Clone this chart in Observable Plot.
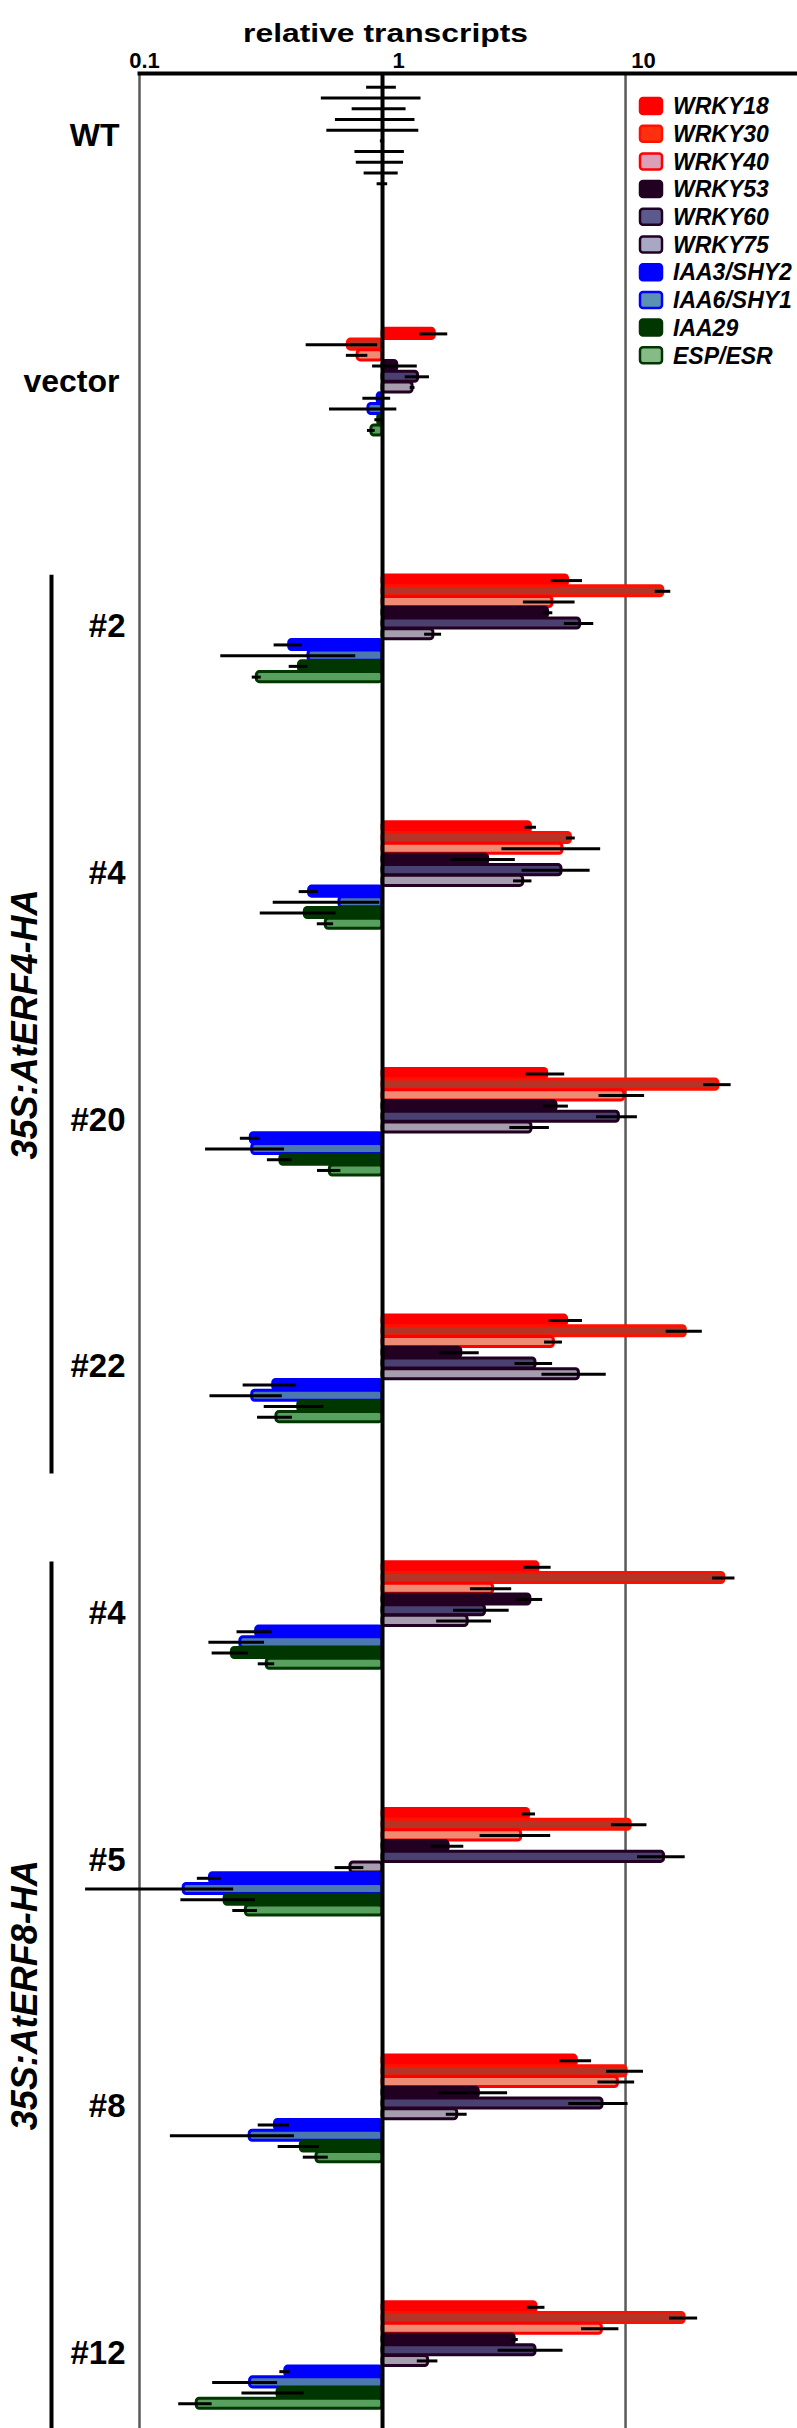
<!DOCTYPE html>
<html><head><meta charset="utf-8">
<script src="https://cdn.jsdelivr.net/npm/d3@7"></script>
<script src="https://cdn.jsdelivr.net/npm/@observablehq/plot@0.6"></script>
<style>body{margin:0;background:#fff} svg{display:block}</style>
</head><body><div id="chart"></div>
<script>
// ---- data ----
const genes = ["WRKY18","WRKY30","WRKY40","WRKY53","WRKY60","WRKY75","IAA3/SHY2","IAA6/SHY1","IAA29","ESP/ESR"];
const lines = ["WT","vector","#2","#4","#20","#22","#4","#5","#8","#12"];
const constructNames = ["35S:AtERF4-HA","35S:AtERF8-HA"];
const constructFirstLine = [2, 6];
const constructLastLine = [5, 9];
const tickValues = [0.1, 1, 10];
const tickLabels = ["0.1", "1", "10"];
const axisTitle = "relative transcripts";

const valWT     = [1, 1, 1, 1, 1, 1, 1, 1, 1, 1];
const errWT     = [0.14, 0.44, 0.25, 0.36, 0.41, 0.02, 0.23, 0.22, 0.16, 0.05];
const valVector = [1.64, 0.72, 0.79, 1.15, 1.40, 1.33, 0.955, 0.875, 0.96, 0.90];
const errVector = [0.215, 0.235, 0.08, 0.24, 0.16, 0.03, 0.125, 0.27, 0.03, 0.033];
const valE4_2   = [5.8, 14.3, 5.0, 4.8, 6.5, 1.62, 0.413, 0.496, 0.453, 0.304];
const errE4_2   = [0.85, 1.05, 1.2, 0.22, 0.9, 0.13, 0.055, 0.28, 0.04, 0.013];
const valE4_4   = [4.08, 5.96, 5.5, 2.72, 5.45, 3.79, 0.499, 0.665, 0.479, 0.584];
const errE4_4   = [0.22, 0.25, 2.4, 0.8, 1.7, 0.33, 0.045, 0.31, 0.165, 0.045];
const valE4_20  = [4.76, 24.1, 9.88, 5.2, 9.39, 4.1, 0.287, 0.291, 0.38, 0.607];
const errE4_20  = [0.86, 3.1, 2.1, 0.62, 1.8, 0.76, 0.027, 0.104, 0.044, 0.067];
const valE4_22  = [5.75, 17.7, 5.07, 2.11, 4.26, 6.43, 0.355, 0.291, 0.45, 0.366];
const errE4_22  = [0.9, 3.0, 0.43, 0.39, 0.75, 1.9, 0.088, 0.096, 0.124, 0.06];
const valE8_4   = [4.38, 25.5, 2.85, 4.06, 2.64, 2.24, 0.302, 0.26, 0.24, 0.334];
const errE8_4   = [0.56, 2.7, 0.55, 0.5, 0.68, 0.57, 0.05, 0.067, 0.041, 0.026];
const valE8_5   = [4.01, 10.5, 3.72, 1.87, 14.4, 0.738, 0.195, 0.152, 0.224, 0.274];
const errE8_5   = [0.25, 1.75, 1.2, 0.29, 3.2, 0.1, 0.022, 0.092, 0.076, 0.032];
const valE8_8   = [6.3, 10.1, 9.3, 2.49, 8.04, 2.03, 0.361, 0.284, 0.461, 0.535];
const errE8_8   = [0.95, 1.75, 1.6, 0.78, 2.2, 0.2, 0.053, 0.15, 0.089, 0.063];
const valE8_12  = [4.3, 17.5, 7.99, 3.5, 4.26, 1.54, 0.398, 0.285, 0.37, 0.172];
const errE8_12  = [0.36, 2.3, 1.4, 0.12, 1.27, 0.15, 0.02, 0.085, 0.106, 0.027];

// ---- styles ----
const barFill   = ["#ff0000","#b63426","#ef8b73","#220022","#4b4170","#a69daf","#0000ff","#4b78ae","#003600","#58a05e"];
const barStroke = ["#ff0000","#ff1000","#ff0000","#220022","#220022","#220022","#0000ff","#0000ff","#003600","#003600"];
const keyFill   = ["#ff0000","#ff3010","#d9a0b8","#220022","#5b5a8c","#a9a8c4","#0000ff","#5b92b4","#003600","#86bb88"];

const values = [valWT, valVector, valE4_2, valE4_4, valE4_20, valE4_22, valE8_4, valE8_5, valE8_8, valE8_12];
const errors = [errWT, errVector, errE4_2, errE4_4, errE4_20, errE4_22, errE8_4, errE8_5, errE8_8, errE8_12];

// layout: each line occupies 10 rows out of a 23-row slot
const SLOT = 23;
const rowOf = (g, k) => SLOT * g + k;
const yDomain = [-1.28, 218.3];

const rows = lines.flatMap((line, g) => genes.map((gene, k) => ({
  g, k, gene, line, v: values[g][k], e: errors[g][k], r: rowOf(g, k)
})));
const lineLabels = lines.map((line, g) => ({line, g, yc: rowOf(g, 4.5)}));
const constructs = constructNames.map((name, i) => ({
  name,
  y1: rowOf(constructFirstLine[i], 0) - 0.5,
  y2: i === constructNames.length - 1 ? yDomain[1] : rowOf(constructLastLine[i], 9) + 5.3
}));

const sans = "'Liberation Sans','Helvetica','Arial',sans-serif";

const chart = Plot.plot({
  width: 797, height: 2428,
  marginTop: 73, marginLeft: 139, marginRight: 0, marginBottom: 0,
  x: {type: "log", domain: [0.1, 51], axis: null},
  y: {domain: yDomain, reverse: true, axis: null},
  color: {type: "identity"},
  style: {fontFamily: sans, background: "#fff", overflow: "visible"},
  marks: [
    Plot.ruleX([0.1, 10], {stroke: "#5a5a5a", strokeWidth: 2.5}),
    Plot.rectX(rows, {
      x1: () => 1, x2: "v",
      y1: d => d.r - 0.47, y2: d => d.r + 0.47,
      fill: d => barFill[d.k], stroke: d => barStroke[d.k],
      strokeWidth: 3, rx: 3
    }),
    Plot.ruleX([1], {stroke: "#000", strokeWidth: 4}),
    Plot.ruleY(rows, {
      y: "r", x1: d => d.v - d.e, x2: d => d.v + d.e,
      stroke: "#000", strokeWidth: 3
    }),
    Plot.frame({anchor: "top", stroke: "#000", strokeWidth: 4}),
    ...tickValues.map((t, i) => Plot.text([t], {
      x: d => d, frameAnchor: "top", dy: -21, dx: [5, 16, 18][i],
      text: () => tickLabels[i], fontFamily: sans, fontWeight: "bold", fontSize: 22
    })),
    Plot.text([axisTitle], {
      x: () => 1, frameAnchor: "top", dy: -49, dx: 3, text: d => d,
      fontFamily: sans, fontWeight: "bold", fontSize: 25
    }),
    Plot.text(lineLabels.filter(d => d.g < 2), {
      x: () => 0.1, y: "yc", dx: -20, dy: 0, text: "line", textAnchor: "end",
      fontFamily: sans, fontWeight: "bold", fontSize: 32
    }),
    Plot.text(lineLabels.filter(d => d.g >= 2), {
      x: () => 0.1, y: "yc", dx: -14, dy: -2, text: "line", textAnchor: "end",
      fontFamily: sans, fontWeight: "bold", fontSize: 33
    }),
    Plot.ruleX(constructs, {x: () => 0.1, y1: "y1", y2: "y2", dx: -88, stroke: "#000", strokeWidth: 4}),
    Plot.text(constructs, {
      x: () => 0.1, y: d => (d.y1 + d.y2) / 2, dx: -114, rotate: -90, text: "name",
      fontFamily: sans, fontWeight: "bold", fontStyle: "italic", fontSize: 36
    })
  ]
});

// legend
const svg = d3.select(chart);
const lg = svg.append("g").attr("text-anchor", "start");
genes.forEach((gene, i) => {
  const cy = 106 + i * 27.7;
  lg.append("rect").attr("x", 640).attr("y", cy - 8).attr("width", 22).attr("height", 16)
    .attr("rx", 3).attr("fill", keyFill[i]).attr("stroke", barStroke[i]).attr("stroke-width", 2.5);
  lg.append("text").attr("x", 673).attr("y", cy).attr("dy", "0.36em")
    .attr("text-anchor", "start")
    .attr("font-family", sans).attr("font-weight", "bold").attr("font-style", "italic")
    .attr("font-size", 23).attr("fill", "#000").text(gene);
});

document.getElementById("chart").appendChild(chart);

// stretch the axis title to the width it has in the figure
svg.selectAll("text").filter(function() { return this.textContent === axisTitle; })
  .attr("textLength", 285).attr("lengthAdjust", "spacingAndGlyphs");
</script>
</body></html>
